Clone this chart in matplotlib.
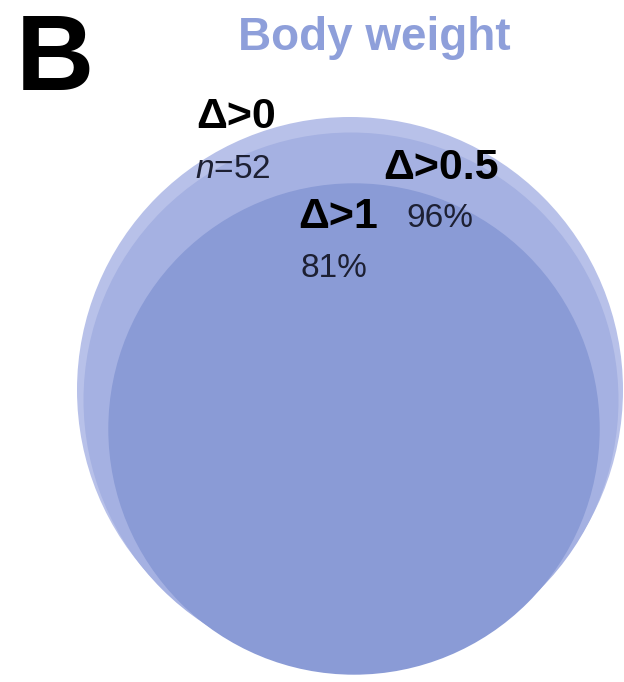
"""Panel B: nested area-proportional circles for body weight."""

import numpy as np
import matplotlib.pyplot as plt
from matplotlib.patches import Circle

plt.rcParams['font.family'] = ['Liberation Sans', 'DejaVu Sans']
plt.rcParams['mathtext.fontset'] = 'custom'
plt.rcParams['mathtext.it'] = 'Liberation Sans:italic'
plt.rcParams['mathtext.rm'] = 'Liberation Sans'

# Data
thresholds = ["Δ>0", "Δ>0.5", "Δ>1"]
shares = [100, 96, 81]          # % of genes passing each threshold
n_total = 52

# layout (pixel space of the panel)
outer_radius = 273
centers = [(350, 390), (351, 400), (354, 429)]
fills = ["#B8C1E9", "#A5B1E2", "#8A9BD6"]
head_pos = [(196, 128), (383, 179), (298, 228)]
sub_pos = [(195, 178), (406, 227), (300, 277)]

fig = plt.figure(figsize=(6.24, 6.82), dpi=100)
ax = fig.add_axes([0, 0, 1, 1])
ax.set_xlim(0, 624)
ax.set_ylim(682, 0)
ax.set_aspect('equal')
ax.axis('off')

# area proportional radii
radii = outer_radius * np.sqrt(np.array(shares) / 100.0)
for (cx, cy), r, col in zip(centers, radii, fills):
    ax.add_patch(Circle((cx, cy), r, facecolor=col, edgecolor='none'))

for i, lab in enumerate(thresholds):
    x, y = head_pos[i]
    ax.text(x, y, lab, fontsize=31, fontweight='bold', color='black',
            ha='left', va='baseline')
    sx, sy = sub_pos[i]
    sub = r"$\it{n}$=%d" % n_total if i == 0 else f"{shares[i]}%"
    ax.text(sx, sy, sub, fontsize=24, color='#1d2033', ha='left', va='baseline')

ax.text(238, 50, "Body weight", fontsize=33, fontweight='bold',
        color='#8E9FDA', ha='left', va='baseline')
ax.text(16, 90, "B", fontsize=78, fontweight='bold', color='black',
        ha='left', va='baseline')

fig.savefig("out.png", dpi=100)
